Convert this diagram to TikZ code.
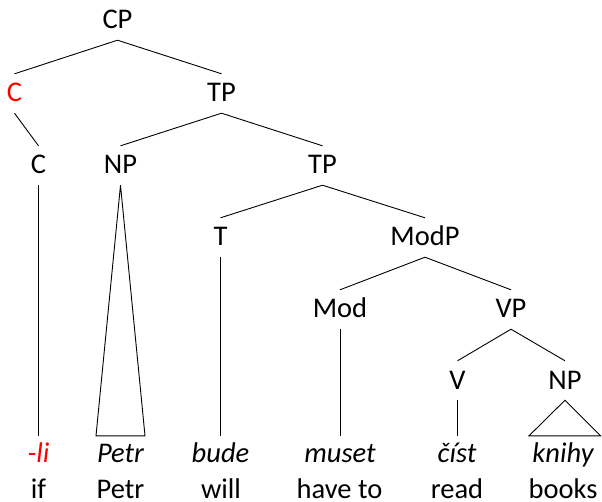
\documentclass[tikz,border=0pt]{standalone}
\usepackage{fontspec}
\setmainfont{Carlito}
\begin{document}
\begin{tikzpicture}[x=1pt,y=-1pt,
  cat/.style={font=\fontsize{28.5}{34}\selectfont, anchor=base, text height=18pt, text depth=1pt, inner ysep=10pt, inner xsep=0pt},
  word/.style={font=\fontsize{28.5}{34}\selectfont\itshape, anchor=base, text height=18pt, text depth=1pt, inner ysep=8pt, inner xsep=0pt},
  gloss/.style={font=\fontsize{28.5}{34}\selectfont, anchor=base, text depth=0pt, inner sep=0pt},
  edge/.style={line width=0.9pt}]
\useasboundingbox (0,0) rectangle (602,502);
% categories
\node[cat] (CP) at (117.5,29) {CP};
\node[cat,red] (Cbar) at (14.5,102) {C};
\node[cat] (TP1) at (221.5,102) {TP};
\node[cat] (C) at (38.5,174) {C};
\node[cat] (NP1) at (120.5,174) {NP};
\node[cat] (TP2) at (322.5,174) {TP};
\node[cat] (T) at (220.5,246) {T};
\node[cat] (ModP) at (425,246) {ModP};
\node[cat] (Mod) at (340,318) {Mod};
\node[cat] (VP) at (511,318) {VP};
\node[cat] (V) at (457.5,389) {V};
\node[cat] (NP2) at (565,389) {NP};
% words
\node[word,red] (w1) at (38.5,462) {-li};
\node[word] (w2) at (120.5,462) {Petr};
\node[word] (w3) at (220.5,462) {bude};
\node[word] (w4) at (340,462) {muset};
\node[word] (w5) at (457,462) {číst};
\node[word] (w6) at (563,462) {knihy};
% glosses
\node[gloss] (g1) at (38.5,498) {if};
\node[gloss] (g2) at (120.5,498) {Petr};
\node[gloss] (g3) at (221,498) {will};
\node[gloss] (g4) at (339.5,498) {have to};
\node[gloss] (g5) at (457,498) {read};
\node[gloss] (g6) at (563,498) {books};
% edges
\draw[edge] (CP.south) -- (Cbar.north);
\draw[edge] (CP.south) -- (TP1.north);
\draw[edge] (Cbar.south) -- (C.north);
\draw[edge] (TP1.south) -- (NP1.north);
\draw[edge] (TP1.south) -- (TP2.north);
\draw[edge] (TP2.south) -- (T.north);
\draw[edge] (TP2.south) -- (ModP.north);
\draw[edge] (ModP.south) -- (Mod.north);
\draw[edge] (ModP.south) -- (VP.north);
\draw[edge] (VP.south) -- (V.north);
\draw[edge] (VP.south) -- (NP2.north);
\draw[edge] (C.south) -- (C.south |- w1.north);
\draw[edge] (T.south) -- (T.south |- w3.north);
\draw[edge] (Mod.south) -- (Mod.south |- w4.north);
\draw[edge] (V.south) -- (V.south |- w5.north);
\draw[edge] (NP1.south) -- ([xshift=-24.5pt]w2.north) -- ([xshift=24.5pt]w2.north) -- cycle;
\draw[edge] (NP2.south) -- ([xshift=-34pt]w6.north) -- ([xshift=37.5pt]w6.north) -- cycle;
\end{tikzpicture}
\end{document}
